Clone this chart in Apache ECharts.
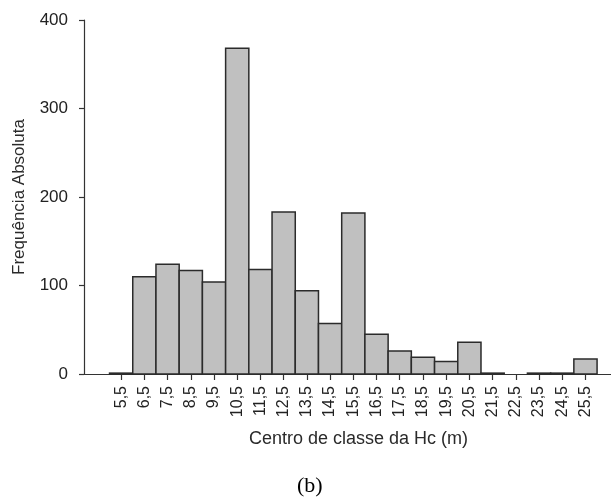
<!DOCTYPE html>
<html>
<head>
<meta charset="utf-8">
<script src="https://cdn.jsdelivr.net/npm/echarts@6/dist/echarts.min.js"></script>
<style>
  html, body { margin: 0; padding: 0; background: #fff; }
  #chart { width: 611px; height: 497px; }
</style>
</head>
<body>
<div id="chart"></div>
<script>
// centros de classe (m) e frequência absoluta
var centros = [5.5, 6.5, 7.5, 8.5, 9.5, 10.5, 11.5, 12.5, 13.5, 14.5, 15.5,
               16.5, 17.5, 18.5, 19.5, 20.5, 21.5, 22.5, 23.5, 24.5, 25.5];
var frequencia = [1, 110, 124, 117, 104, 368, 118, 183, 94, 57, 182,
                  45, 26, 19, 14, 36, 1, 0, 1, 1, 17];
var yTicks = [0, 100, 200, 300, 400];

var dados = centros.map(function (c, i) { return [c, frequencia[i]]; });

var chart = echarts.init(document.getElementById("chart"));
chart.setOption({
  animation: false,
  grid: { left: 84, right: 0, top: 20, bottom: 123 },
  xAxis: {
    type: "value",
    min: 3.9,
    max: 26.6,
    name: "Centro de classe da Hc (m)",
    nameLocation: "middle",
    nameGap: 56,
    nameTextStyle: { fontFamily: "Liberation Sans", fontSize: 18, color: "#2a2a2a", padding: [0, 0, 0, 22] },
    axisLine: { show: true, onZero: false, lineStyle: { color: "#333", width: 1.2 } },
    axisTick: { show: true, customValues: centros, length: 6, lineStyle: { color: "#333", width: 1.2 } },
    axisLabel: {
      customValues: centros,
      rotate: 90,
      margin: 12,
      fontFamily: "Liberation Sans",
      fontSize: 16,
      color: "#222",
      formatter: function (v) { return v.toFixed(1).replace(".", ","); }
    },
    splitLine: { show: false }
  },
  yAxis: {
    type: "value",
    min: yTicks[0],
    max: yTicks[yTicks.length - 1],
    interval: 100,
    name: "Frequência Absoluta",
    nameLocation: "middle",
    nameGap: 56,
    nameTextStyle: { fontFamily: "Liberation Sans", fontSize: 17, color: "#2a2a2a", padding: [0, 0, 0, 0] },
    axisLine: { show: true, lineStyle: { color: "#333", width: 1.2 } },
    axisTick: { show: true, length: 5, lineStyle: { color: "#333", width: 1.2 } },
    axisLabel: { margin: 16, fontFamily: "Liberation Sans", fontSize: 17, fontWeight: 500, color: "#222" },
    splitLine: { show: false }
  },
  series: [{
    type: "custom",
    data: dados,
    renderItem: function (params, api) {
      var v = api.value(1);
      if (!v) return null;
      var base = api.coord([api.value(0) - 0.5, 0]);
      var topo = api.coord([api.value(0) + 0.5, v]);
      return {
        type: "rect",
        shape: { x: base[0], y: topo[1], width: topo[0] - base[0], height: base[1] - topo[1] },
        style: { fill: "#c0c0c0", stroke: "#2b2b2b", lineWidth: 1.5 }
      };
    }
  }],
  graphic: [{
    type: "text",
    left: 297,
    top: 475,
    style: { text: "(b)", font: "22px 'Liberation Serif'", fill: "#000" }
  }]
});
</script>
</body>
</html>
